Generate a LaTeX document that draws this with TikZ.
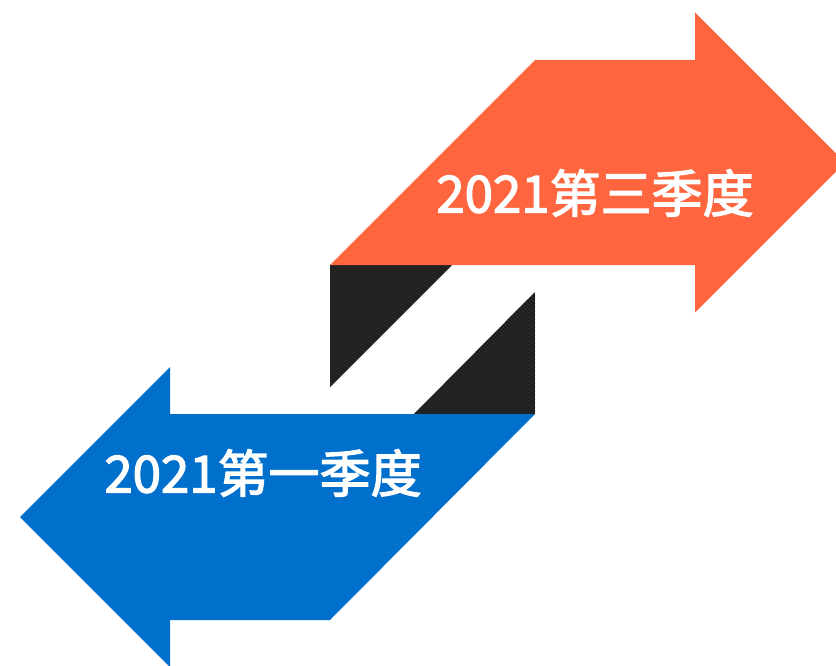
\documentclass[tikz,border=0pt]{standalone}
\usepackage{fontspec}
\newfontfamily\cjk[FakeBold=2.5]{Noto Sans CJK SC}
\definecolor{orangeA}{RGB}{255,102,64}
\definecolor{blueA}{RGB}{0,112,204}
\definecolor{darkA}{RGB}{30,30,30}
\definecolor{darkB}{RGB}{42,42,42}
\begin{document}
\begin{tikzpicture}[x=1pt,y=-1pt,
  lbl/.style={text=white,font=\cjk\fontsize{51}{56}\selectfont,inner sep=0pt,anchor=center}]
\useasboundingbox (0,0) rectangle (836,666);
% dark connector pieces
\begin{scope}
  \clip (330,265) -- (452,265) -- (330,387) -- cycle
        (535,292) -- (535,414) -- (414,414) -- cycle;
  \fill[darkA] (330,265) rectangle (535,414);
  \foreach \i in {-160,-156,...,210}
    \draw[darkB,line width=1pt] (330+\i,262) -- (330+\i+160,422);
\end{scope}
% orange arrow (right)
\fill[orangeA] (330,265) -- (535,60) -- (695,60) -- (695,12.5) -- (845,162.5)
  -- (695,312.5) -- (695,265) -- cycle;
% blue arrow (left)
\fill[blueA] (535,414) -- (330,620) -- (170,620) -- (170,667) -- (20,517)
  -- (170,367) -- (170,414) -- cycle;
\node[lbl] (t3) at (595,193) {2021第三季度};
\node[lbl] (t1) at (263,473) {2021第一季度};
\end{tikzpicture}
\end{document}
